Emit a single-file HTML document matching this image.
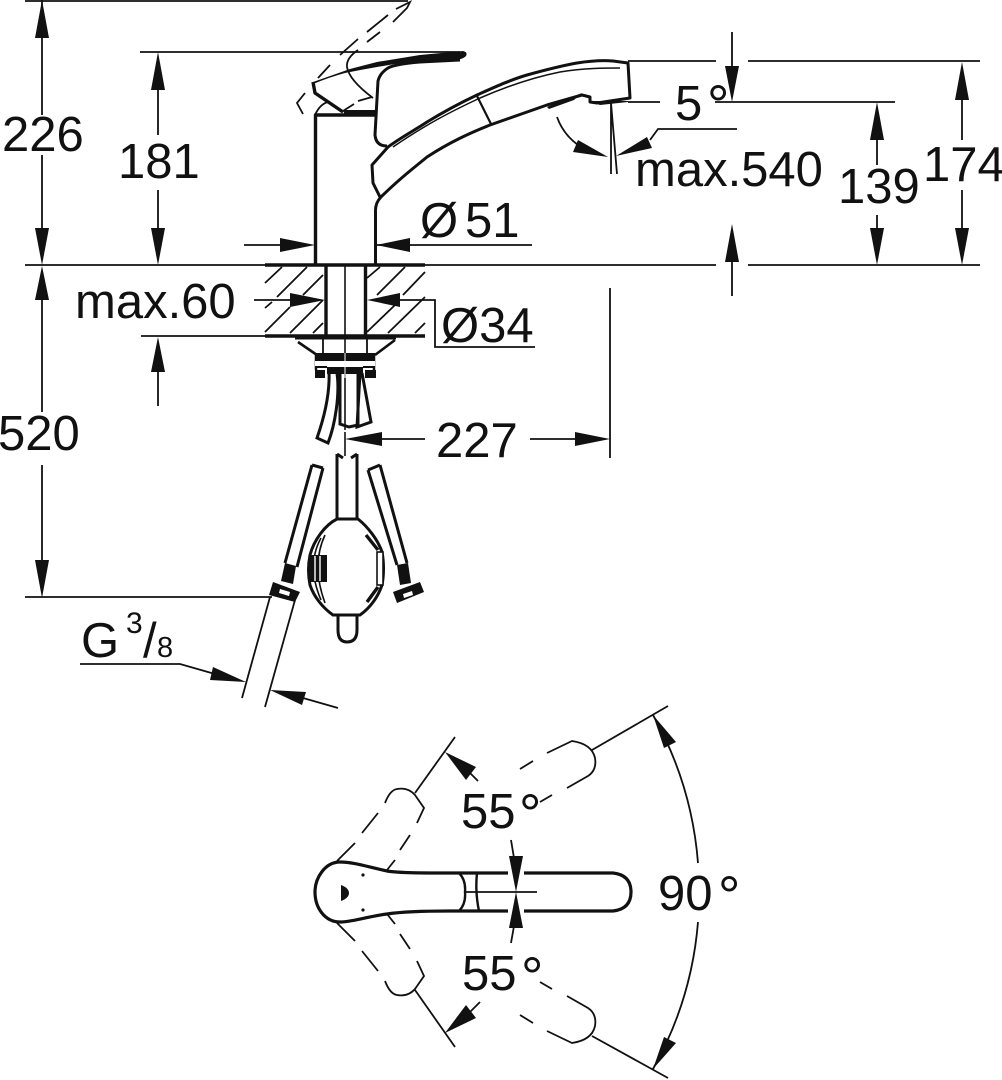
<!DOCTYPE html>
<html><head><meta charset="utf-8"><style>
html,body{margin:0;padding:0;background:#fff}
svg{display:block}
text{font-family:"Liberation Sans",sans-serif;font-size:49px;fill:#111}
</style></head><body>
<svg width="1002" height="1080" viewBox="0 0 1002 1080" xmlns="http://www.w3.org/2000/svg">
<g fill="none" stroke="#111" stroke-width="1.8">
<!-- extension and dimension lines -->
<path d="M25 1H408M140 52H460M25 265H716M748 265H980M628 61H716M748 61H980M628 102H660M715 102H895M25 597H272M141 336H265"/>
<path d="M42 0V115M42 155V228M42 300V412M42 465V560M158 90V135M158 190V228M158 372V406M732 32V66M732 262V296M877 140V165M877 215V228M962 100V140"/>
<path d="M962 190V228M376 245H532M244 245H280M254 300H290M400 300H435V347H535M382 439H425M530 439H575M610 288V458M737 129H658L650 140M80 664H180L215 674"/>
<path d="M303 698 338 708M270 597 242 698M295 600 265 707"/>
<path d="M611 103V174M611 103 617 174M557 117Q563 134 578 145"/>
<path d="M592 750 668 706M592 1036 668 1078M415 793 455 737M415 990 455 1047M466 892H537M511 840 514 858M511 943 514 926M470 773 478 781M470 1012 480 1002"/>
<path d="M653 715A359 359 0 0 1 698 863M698 922A359 359 0 0 1 653 1069"/>
<path d="M345 265V430M345 432V456" stroke-width="1.6"/>
</g>
<!-- arrows -->
<g fill="#111">
<path d="M42 0 35 38H49ZM42 265 35 228H49ZM42 266 35 300H49ZM42 598 35 560H49ZM158 52 151 90H165ZM158 265 151 228H165ZM158 337 151 372H165ZM732 102 725 66H739ZM732 224 725 262H739ZM877 102 870 140H884ZM877 265 870 228H884ZM962 62 955 100H969ZM962 265 955 228H969Z"/>
<path d="M315 245 280 238V252ZM376 245 410 238V252ZM325 300 290 293V307ZM367 300 400 293V307ZM345 439 382 432V446ZM610 439 575 432V446Z"/>
<path d="M608 157 578 140 573 152ZM616 156 647 137 652 148ZM246 682 213 667 210 680ZM270 690 306 692 302 705Z"/>
<path d="M516 892 509 856H523ZM516 892 509 928H523ZM445 752 476 767 466 780ZM445 1033 466 1005 476 1018ZM653 715 676 742 664 748ZM653 1069 664 1037 676 1043Z"/>
</g>
<!-- hatch -->
<path d="M265 283 282 267M277 297 307 267M303 295 323 275M265 308 272 302M265 332 290 307M290 333 323 300M313 333 323 323M367 278 380 267M377 295 405 267M403 295 425 272M367 332 395 305M388 333 425 297M415 333 425 323" stroke="#111" stroke-width="1.8" fill="none"/>
<g fill="none" stroke="#111" stroke-width="3.4" stroke-linejoin="round">
<path d="M265 265H425M265 336H425" />
<path d="M326 265V336M365.500 265V336"/>
<path d="M315.500 265V115H375"/>
<path d="M375.500 265V212Q375 203 381 197C400 178 415 167 427 157 450 142 470 133 490 125L547 105 582 95 590 97V102L597 103 630 98 628 63 613 61C600 60 590 61 577 63 560 66 545 70 527 75 510 80 495 87 477 95 460 103 445 111 427 122 415 130 400 138 388 147L372 165 373 183 380 197" stroke-width="3"/>
<path d="M460 60 420 62Q395 64 388 68 380 73 378 81L375 135Q376 146 387 146" stroke-width="3"/>
<path d="M313 82 315 93 343 112"/>
<path d="M477 96 491 124" stroke-width="2.2"/>
<path d="M393 147C425 125 450 112 480 98 510 85 535 77 560 72 585 68 605 68 620 68" stroke-width="1.5"/>
</g>
<g fill="#111">
<path d="M313 82 350 69 377 62 420 55 463 51Q468 52 466 56 462 60 450 61 420 63 395 64 370 68 345 73 330 77 313 84Z"/>
<path d="M343 110H375V116H345ZM547 107 582 93 574 100 549 109Z"/>
<path d="M590 101H628V102L600 105Z"/>
</g>
<g fill="none" stroke="#111" stroke-width="1.8">
<path d="M340 55 358 39M367 32 388 15M396 9 410 2 407 8 393 22M380 32 367 42M318 78 330 65"/>
<path d="M305 93 297 103 303 114M343 111 354 104M358 101 372 97M358 50Q346 58 347 67 349 80 373 98M315 115Q320 104 328 102L343 112"/>
</g>
<!-- flange and mount -->
<g fill="none" stroke="#111">
<path d="M295 338H396" stroke-width="3"/>
<path d="M298 342 317 355M395 340 375 355" stroke-width="2.6"/>
<path d="M323 339V353M367 339V353" stroke-width="1.8"/>
<path d="M316 353V370M374 353V370" stroke-width="2.5"/>
</g>
<g fill="#111"><path d="M315 353H375V361H315ZM327 366H363V374H327ZM315 370H325V378H315ZM365 370H376V378H365Z"/>
<path d="M315 361H375V367H315Z" fill="#fff"/></g>
<path d="M315 367H327M363 367H375" stroke="#111" stroke-width="2"/>
<path d="M345 353V378" stroke="#fff" stroke-width="1"/>
<g fill="none" stroke="#111" stroke-width="3">
<path d="M329 372C330 395 324 418 317 438L328 443C335 425 340 395 337 373"/>
<path d="M340 373V424L349 427 358 425V373"/>
<path d="M360 373 357 427 371 422 362 373"/>
<path d="M337 454V518M357 454V518M337 454 343 458M357 454 351 458"/>
<path d="M312 465 285 563M323 468 297 567M312 465 323 468M368 470 397 565M380 465 407 563M368 470 380 465"/>
<path d="M337 519C325 525 314 540 310 555 308 565 308 575 310 585 314 597 323 608 333 615H360C370 608 378 597 382 585 384 575 384 562 382 552 378 540 368 527 358 519Z"/>
<path d="M338 615V630Q338 642 347 642 357 642 357 630V615"/>
<path d="M325 535Q311 565 325 603M321 538Q306 565 321 600" stroke-width="1.6"/>
<path d="M366 535 378 550M378 587 367 602" stroke-width="3.4"/>
</g>
<path d="M310 555H327V582H310Z" fill="#111"/>
<path d="M315 556V581M320 556V581" stroke="#fff" stroke-width="1.4"/>
<rect x="377" y="552" width="6" height="33" fill="#fff" stroke="#111" stroke-width="1.6"/>
<g fill="#111">
<path d="M285 563 296 566 293 584 281 581Z"/>
<path d="M273 582 300 592 295 602 269 595Z"/>
<path d="M397 565 408 563 411 583 400 585Z"/>
<path d="M393 592 420 582 424 592 397 603Z"/>
</g>
<path d="M280 589 290 592 289 596 279 593ZM403 594 412 591 413 595 404 598Z" fill="#fff"/>
<!-- top view -->
<g fill="none" stroke="#111" stroke-width="3.2">
<path d="M508 873H450C420 873 400 873 387 871 365 866 352 862 340 862 325 862 315 878 315 892 315 908 325 922 340 922 352 922 365 917 387 914 400 912 420 911 450 911H508"/>
<path d="M524 873H613Q631 875 631 892 631 909 613 911H524"/>
<path d="M459 873Q466 880 465 892 466 904 459 911M477 873Q475 892 479 911" stroke-width="2.4"/>
</g>
<g fill="#111"><path d="M341 885Q349 888 349 893 349 898 341 901Z"/><circle cx="363" cy="875" r="1.6"/><circle cx="363" cy="910" r="1.6"/></g>
<g fill="none" stroke="#111" stroke-width="1.8">
<path d="M337 861 355 843M362 833 378 813M385 803Q390 790 397 789 408 787 415 795L424 808 417 823M410 835 400 850M395 860 387 870"/>
<path d="M337 923 355 941M362 951 378 971M385 981Q390 994 397 995 408 997 415 989L424 976 417 961M410 949 400 934M395 924 387 914"/>
<path d="M540 802 552 795M567 788 588 776Q597 770 595 758 592 744 572 741L547 753M533 761 520 769"/>
<path d="M540 982 552 989M567 996 588 1008Q597 1014 595 1026 592 1040 572 1043L547 1031M533 1023 520 1015"/>
</g>
<!-- labels -->
<text x="2" y="151">226</text>
<text x="118" y="178">181</text>
<text x="420" y="237">Ø</text>
<text x="465" y="237">51</text>
<text x="75" y="318">max.60</text>
<text x="441" y="342">Ø34</text>
<text x="-2" y="450">520</text>
<text x="436" y="457">227</text>
<text x="675" y="120">5</text>
<text x="707" y="124" style="font-size:56px">°</text>
<text x="635" y="186">max.540</text>
<text x="838" y="203">139</text>
<text x="923" y="181">174</text>
<text x="81" y="657">G</text>
<text x="126" y="633" style="font-size:30px">3</text>
<text x="143" y="657">/</text>
<text x="157" y="657" style="font-size:29px">8</text>
<text x="461" y="828">55</text>
<text x="519" y="833" style="font-size:56px">°</text>
<text x="462" y="990">55</text>
<text x="521" y="996" style="font-size:56px">°</text>
<text x="658" y="910">90</text>
<text x="718" y="915" style="font-size:56px">°</text>
</svg>
</body></html>
